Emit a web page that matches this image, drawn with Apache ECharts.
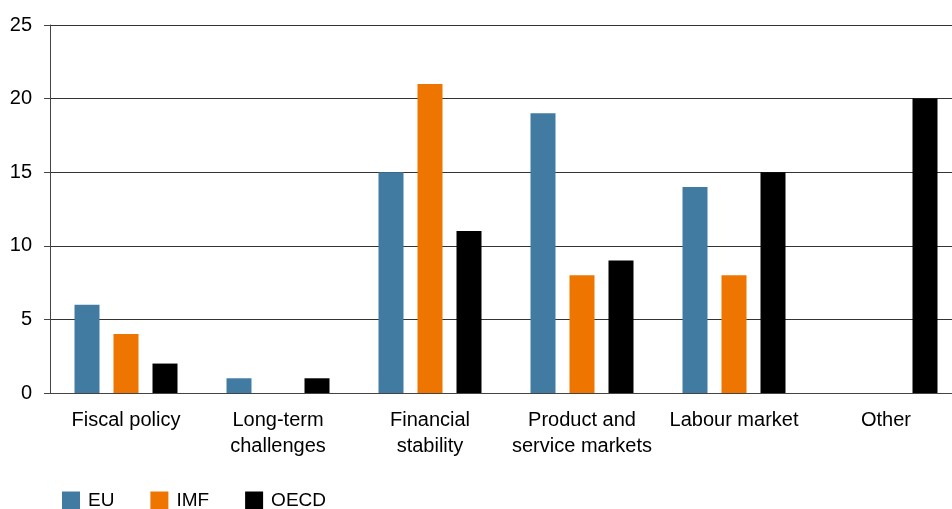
<!DOCTYPE html>
<html>
<head>
<meta charset="utf-8">
<script src="https://cdn.jsdelivr.net/npm/echarts@6/dist/echarts.min.js"></script>
<style>html,body{margin:0;padding:0;background:#fff;overflow:hidden;width:952px;height:509px}#c{width:962px;height:509px}</style>
</head>
<body>
<div id="c"></div>
<script>
const categories = ["Fiscal policy", "Long-term\nchallenges", "Financial\nstability", "Product and\nservice markets", "Labour market", "Other"];
const euValues = [6, 1, 15, 19, 14, 0];
const imfValues = [4, 0, 21, 8, 8, 0];
const oecdValues = [2, 1, 11, 9, 15, 20];
const yTicks = [0, 5, 10, 15, 20, 25];

const chart = echarts.init(document.getElementById('c'), null, {renderer: 'canvas'});
const font = 'Liberation Sans, Arial, sans-serif';
function bar(name, data, color) {
  return {name: name, type: 'bar', data: data, barWidth: 25, barGap: '56%',
    itemStyle: {color: color}, emphasis: {disabled: true}};
}
chart.setOption({
  animation: false,
  grid: {left: 50, right: 0, top: 25, bottom: 116},
  legend: {
    left: 62, top: 491, itemWidth: 18, itemHeight: 18, itemGap: 36,
    icon: 'rect', padding: 0,
    textStyle: {fontFamily: font, fontSize: 19, color: '#000', padding: [0, 0, 0, 3]},
    data: ['EU', 'IMF', 'OECD']
  },
  xAxis: {
    type: 'category', data: categories,
    axisLine: {lineStyle: {color: '#444', width: 1}},
    axisTick: {show: false},
    axisLabel: {fontFamily: font, fontSize: 20, color: '#000', margin: 14, lineHeight: 26, interval: 0}
  },
  yAxis: {
    type: 'value', min: yTicks[0], max: yTicks[yTicks.length - 1], interval: 5,
    axisLine: {show: true, lineStyle: {color: '#444', width: 1}},
    axisTick: {show: true, length: 6, lineStyle: {color: '#444'}},
    axisLabel: {fontFamily: font, fontSize: 20, color: '#000', margin: 18},
    splitLine: {lineStyle: {color: '#333', width: 1}}
  },
  series: [
    bar('EU', euValues, '#427BA2'),
    bar('IMF', imfValues, '#EE7600'),
    bar('OECD', oecdValues, '#000000')
  ]
});
</script>
</body>
</html>
